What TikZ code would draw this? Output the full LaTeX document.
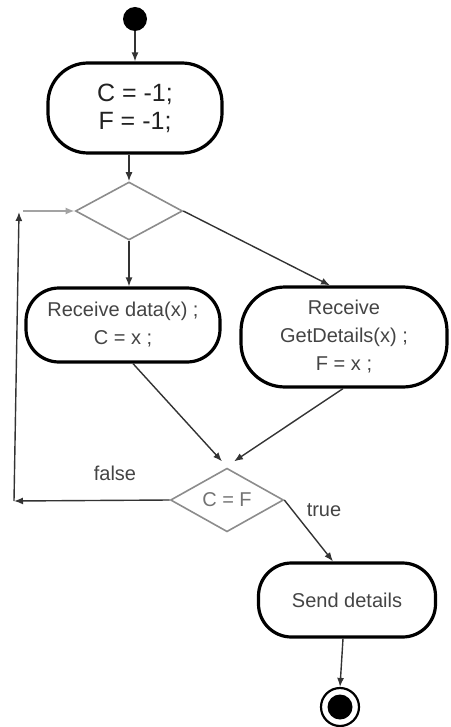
\documentclass[tikz,border=0pt]{standalone}
\usepackage{fontspec}
\setmainfont{Liberation Sans}
\usetikzlibrary{shapes.geometric,arrows.meta,calc}

\definecolor{inkline}{HTML}{333333}
\definecolor{softline}{HTML}{8C8C8C}
\definecolor{textdark}{HTML}{222222}
\definecolor{textmid}{HTML}{444444}

\tikzset{
  activity/.style={draw=black, line width=3.2pt, rounded corners=#1,
    align=center, inner sep=0pt, text=textmid,
    font=\fontsize{20}{28}\selectfont},
  activity/.default=33pt,
  decision/.style={draw=softline, line width=1.6pt, diamond, inner sep=0pt,
    text=textmid!75, font=\fontsize{20}{24}\selectfont},
  flow/.style={draw=inkline, line width=1.4pt,
    -{Latex[length=9pt,width=7pt]}},
  loopflow/.style={flow, draw=softline!80, line width=2pt},
  guard/.style={text=textmid, font=\fontsize{20}{24}\selectfont},
}

\begin{document}
\begin{tikzpicture}[x=1pt,y=-1pt]
  \useasboundingbox (0,0) rectangle (450,727);

  % start and end markers
  \node[circle, fill=black, minimum size=24pt, inner sep=0pt] (start) at (135,19) {};
  \node[circle, draw=black, line width=2.2pt, minimum size=38pt, inner sep=0pt] (finish) at (340,707) {};
  \fill[black] (finish.center) circle (12.5pt);

  % actions
  \node[activity=40pt, minimum width=174pt, minimum height=90pt, text=textdark,
        font=\fontsize{25}{28}\selectfont] (init) at (135,108) {C = -1;\\F = -1;};
  \node[activity, minimum width=194pt, minimum height=74pt] (recvdata) at (123,325)
        {Receive data(x) ;\\C = x ;};
  \node[activity=44pt, minimum width=206pt, minimum height=100pt] (recvdet) at (344,337)
        {Receive\\GetDetails(x) ;\\F = x ;};
  \node[activity, minimum width=177pt, minimum height=74pt] (send) at (347,600)
        {Send details};

  % decisions
  \node[decision, minimum width=107pt, minimum height=58pt] (fork) at (129,211) {};
  \node[decision, minimum width=113pt, minimum height=57pt] (test) at (227,500) {C = F};

  % free ends of the loop back
  \coordinate (loopdown) at (14,501);
  \coordinate (loopup) at (19,212);
  \coordinate (loopin) at (23,211);

  % control flow
  \draw[flow] (start) -- (start |- init.north);
  \draw[flow] (init.south -| fork.north) -- (fork.north);
  \draw[flow] (fork.south) -- (fork.south |- recvdata.north);
  \draw[flow] (fork.east) -- ($(recvdet.north)+(-14,0)$);
  \draw[flow] ($(recvdata.south)+(10,0)$) -- ($(test.north)+(-5,-6)$);
  \draw[flow] ($(recvdet.south)+(-1,0)$) -- ($(test.north)+(7,-6)$);
  \draw[flow] (test.east) -- ($(send.north)+(-14,0)$);
  \draw[flow] ($(send.south)+(-4,0)$) -- (finish.north);

  % false branch back to the first decision
  \draw[flow] (test.west) -- (loopdown);
  \draw[flow] (loopdown) -- (loopup);
  \draw[loopflow] (loopin) -- (fork.west);

  % guards
  \node[guard] (lblfalse) at (115,473) {false};
  \node[guard] (lbltrue) at (324,510) {true};
\end{tikzpicture}
\end{document}
